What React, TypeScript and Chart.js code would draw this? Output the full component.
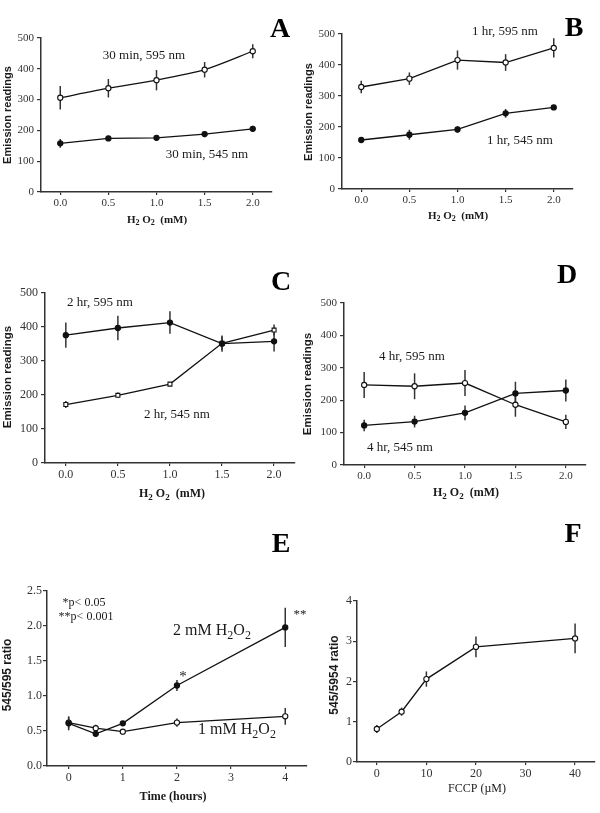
import React, { useEffect, useRef } from "react";
import { Chart, registerables } from "chart.js";
Chart.register(...registerables);

// ---------- DATA ----------
const conc = [0, 0.5, 1.0, 1.5, 2.0];
const concTicks = [0, 0.5, 1.0, 1.5, 2.0];
const emissionTicks = [0, 100, 200, 300, 400, 500];

const a595 = [306, 337, 363, 397, 457];
const a595Err = [38, 30, 33, 25, 23];
const a545 = [158, 174, 176, 188, 205];
const a545Err = [14, 8, 8, 10, 10];

const b595 = [329, 356, 416, 408, 455];
const b595Err = [20, 20, 31, 27, 31];
const b545 = [158, 175, 192, 244, 263];
const b545Err = [9, 16, 10, 14, 8];

const c595 = [376, 397, 413, 351, 358];
const c595Err = [37, 36, 33, 24, 30];
const c545 = [172, 199, 232, 352, 391];
const c545Err = [10, 8, 6, 20, 16];

const d595 = [247, 243, 253, 186, 133];
const d595Err = [40, 40, 40, 37, 22];
const d545 = [122, 134, 161, 221, 230];
const d545Err = [18, 18, 23, 36, 34];

const hours = [0, 0.5, 1, 2, 4];
const hourTicks = [0, 1, 2, 3, 4];
const ratioTicksE = [0, 0.5, 1.0, 1.5, 2.0, 2.5];
const e2mM = [0.61, 0.46, 0.61, 1.15, 1.98];
const e2mMErr = [0.1, 0.03, 0.03, 0.08, 0.28];
const e1mM = [0.62, 0.54, 0.49, 0.62, 0.71];
const e1mMErr = [0.08, 0.05, 0.03, 0.06, 0.12];

const fccp = [0, 5, 10, 20, 40];
const fccpTicks = [0, 10, 20, 30, 40];
const ratioTicksF = [0, 1, 2, 3, 4];
const fRatio = [0.82, 1.25, 2.06, 2.86, 3.07];
const fRatioErr = [0.1, 0.1, 0.19, 0.26, 0.37];

// ---------- STYLE / LAYOUT ----------
const SERIF = "'Liberation Serif', 'Times New Roman', serif";
const SANS = "'Liberation Sans', Arial, sans-serif";
const INK = "#111";
const AXIS = "#333";

type Seg = { t: string; sub?: boolean };
type Series = { x: number[]; y: number[]; err: number[]; style: "open" | "filled" | "square"; tension?: number };
type Note = { segs: Seg[]; x: number; y: number; size: number };
type PanelCfg = {
  left: number; top: number; width: number; height: number;
  area: { l: number; t: number; r: number; b: number };
  xMin: number; xMax: number; xTicks: number[]; xDec: number;
  yMin: number; yMax: number; yTicks: number[]; yDec: number;
  tickSize: number; yTickPad: number;
  series: Series[];
  yTitle: { text: string; x: number; y: number; size: number };
  xTitle: { segs: Seg[]; x: number; y: number; size: number; bold: boolean };
  letter: { text: string; x: number; y: number };
  notes: Note[];
};

const h2o2: Seg[] = [{ t: "H" }, { t: "2", sub: true }, { t: " O" }, { t: "2", sub: true }, { t: "  (mM)" }];

function drawRich(ctx: CanvasRenderingContext2D, segs: Seg[], cx: number, cy: number, size: number, bold: boolean, family: string) {
  const font = (sub?: boolean) => `${bold ? "bold " : ""}${sub ? Math.round(size * 0.72) : size}px ${family}`;
  const widths = segs.map((s) => { ctx.font = font(s.sub); return ctx.measureText(s.t).width; });
  const total = widths.reduce((a, b) => a + b, 0);
  let x = cx - total / 2;
  ctx.textAlign = "left";
  ctx.textBaseline = "middle";
  segs.forEach((s, i) => {
    ctx.font = font(s.sub);
    ctx.fillText(s.t, x, cy + (s.sub ? size * 0.28 : 0));
    x += widths[i];
  });
}

const errorBars = {
  id: "errorBars",
  beforeDatasetsDraw(chart: any) {
    const ctx = chart.ctx;
    const xs = chart.scales.x, ys = chart.scales.y;
    ctx.save();
    ctx.strokeStyle = AXIS;
    ctx.lineWidth = 1.5;
    chart.data.datasets.forEach((ds: any) => {
      ds.data.forEach((p: any, i: number) => {
        const e = ds.errors[i];
        const px = xs.getPixelForValue(p.x);
        ctx.beginPath();
        ctx.moveTo(px, ys.getPixelForValue(p.y + e));
        ctx.lineTo(px, ys.getPixelForValue(p.y - e));
        ctx.stroke();
      });
    });
    ctx.restore();
  },
};

const texts = {
  id: "texts",
  afterDraw(chart: any) {
    const cfg: PanelCfg = chart.options.plugins.texts.cfg;
    const ctx = chart.ctx;
    ctx.save();
    ctx.fillStyle = "#1a1a1a";
    // y title
    ctx.save();
    ctx.translate(cfg.yTitle.x, cfg.yTitle.y);
    ctx.rotate(-Math.PI / 2);
    ctx.font = `bold ${cfg.yTitle.size}px ${SANS}`;
    ctx.textAlign = "center";
    ctx.textBaseline = "middle";
    ctx.fillText(cfg.yTitle.text, 0, 0);
    ctx.restore();
    // x title
    drawRich(ctx, cfg.xTitle.segs, cfg.xTitle.x, cfg.xTitle.y, cfg.xTitle.size, cfg.xTitle.bold, SERIF);
    // panel letter
    ctx.font = `bold 28px ${SERIF}`;
    ctx.textAlign = "center";
    ctx.textBaseline = "alphabetic";
    ctx.fillStyle = "#000";
    ctx.fillText(cfg.letter.text, cfg.letter.x, cfg.letter.y);
    ctx.fillStyle = "#1a1a1a";
    cfg.notes.forEach((n) => drawRich(ctx, n.segs, n.x, n.y, n.size, false, SERIF));
    ctx.restore();
  },
};

const panels: PanelCfg[] = [
  {
    left: 0, top: 0, width: 300, height: 235,
    area: { l: 41, t: 38, r: 272, b: 192 },
    xMin: -0.2, xMax: 2.2, xTicks: concTicks, xDec: 1,
    yMin: 0, yMax: 500, yTicks: emissionTicks, yDec: 0, tickSize: 11, yTickPad: 3,
    series: [
      { x: conc, y: a595, err: a595Err, style: "open", tension: 0.25 },
      { x: conc, y: a545, err: a545Err, style: "filled" },
    ],
    yTitle: { text: "Emission readings", x: 8, y: 115, size: 11 },
    xTitle: { segs: h2o2, x: 157, y: 220, size: 11, bold: true },
    letter: { text: "A", x: 280, y: 37 },
    notes: [
      { segs: [{ t: "30 min, 595 nm" }], x: 144, y: 56, size: 13 },
      { segs: [{ t: "30 min, 545 nm" }], x: 207, y: 155, size: 13 },
    ],
  },
  {
    left: 300, top: 0, width: 300, height: 235,
    area: { l: 42, t: 34, r: 273, b: 189 },
    xMin: -0.2, xMax: 2.2, xTicks: concTicks, xDec: 1,
    yMin: 0, yMax: 500, yTicks: emissionTicks, yDec: 0, tickSize: 11, yTickPad: 3,
    series: [
      { x: conc, y: b595, err: b595Err, style: "open" },
      { x: conc, y: b545, err: b545Err, style: "filled" },
    ],
    yTitle: { text: "Emission readings", x: 9, y: 112, size: 11 },
    xTitle: { segs: h2o2, x: 158, y: 216, size: 11, bold: true },
    letter: { text: "B", x: 274, y: 36 },
    notes: [
      { segs: [{ t: "1 hr, 595 nm" }], x: 205, y: 32, size: 13 },
      { segs: [{ t: "1 hr, 545 nm" }], x: 220, y: 141, size: 13 },
    ],
  },
  {
    left: 0, top: 235, width: 300, height: 275,
    area: { l: 45, t: 58, r: 299, b: 228 },
    xMin: -0.2, xMax: 2.2, xTicks: concTicks, xDec: 1,
    yMin: 0, yMax: 500, yTicks: emissionTicks, yDec: 0, tickSize: 12, yTickPad: 3,
    series: [
      { x: conc, y: c595, err: c595Err, style: "filled" },
      { x: conc, y: c545, err: c545Err, style: "square" },
    ],
    yTitle: { text: "Emission readings", x: 8, y: 142, size: 11.5 },
    xTitle: { segs: h2o2, x: 172, y: 259, size: 12, bold: true },
    letter: { text: "C", x: 281, y: 55 },
    notes: [
      { segs: [{ t: "2 hr, 595 nm" }], x: 100, y: 68, size: 13 },
      { segs: [{ t: "2 hr, 545 nm" }], x: 177, y: 180, size: 13 },
    ],
  },
  {
    left: 300, top: 235, width: 300, height: 275,
    area: { l: 44, t: 68, r: 286, b: 230 },
    xMin: -0.2, xMax: 2.2, xTicks: concTicks, xDec: 1,
    yMin: 0, yMax: 500, yTicks: emissionTicks, yDec: 0, tickSize: 11, yTickPad: 3,
    series: [
      { x: conc, y: d595, err: d595Err, style: "open" },
      { x: conc, y: d545, err: d545Err, style: "filled" },
    ],
    yTitle: { text: "Emission readings", x: 8, y: 149, size: 11.5 },
    xTitle: { segs: h2o2, x: 166, y: 258, size: 12, bold: true },
    letter: { text: "D", x: 267, y: 48 },
    notes: [
      { segs: [{ t: "4 hr, 595 nm" }], x: 112, y: 122, size: 13 },
      { segs: [{ t: "4 hr, 545 nm" }], x: 100, y: 213, size: 13 },
    ],
  },
  {
    left: 300, top: 510, width: 300, height: 303,
    area: { l: 57, t: 91, r: 298, b: 252 },
    xMin: -4, xMax: 44, xTicks: fccpTicks, xDec: 0,
    yMin: 0, yMax: 4, yTicks: ratioTicksF, yDec: 0, tickSize: 12, yTickPad: 1,
    series: [{ x: fccp, y: fRatio, err: fRatioErr, style: "open" }],
    yTitle: { text: "545/5954 ratio", x: 35, y: 165, size: 12 },
    xTitle: { segs: [{ t: "FCCP (µM)" }], x: 177, y: 279, size: 12, bold: false },
    letter: { text: "F", x: 273, y: 32 },
    notes: [],
  },
  {
    left: 0, top: 510, width: 312, height: 303,
    area: { l: 47, t: 81, r: 309, b: 256 },
    xMin: -0.4, xMax: 4.4, xTicks: hourTicks, xDec: 0,
    yMin: 0, yMax: 2.5, yTicks: ratioTicksE, yDec: 1, tickSize: 12, yTickPad: 1,
    series: [
      { x: hours, y: e2mM, err: e2mMErr, style: "filled" },
      { x: hours, y: e1mM, err: e1mMErr, style: "open" },
    ],
    yTitle: { text: "545/595 ratio", x: 8, y: 165, size: 12 },
    xTitle: { segs: [{ t: "Time (hours)" }], x: 173, y: 287, size: 12, bold: true },
    letter: { text: "E", x: 281, y: 42 },
    notes: [
      { segs: [{ t: "*p< 0.05" }], x: 84, y: 93, size: 12 },
      { segs: [{ t: "**p< 0.001" }], x: 86, y: 107, size: 12 },
      { segs: [{ t: "2 mM H" }, { t: "2", sub: true }, { t: "O" }, { t: "2", sub: true }], x: 212, y: 121, size: 16 },
      { segs: [{ t: "1 mM H" }, { t: "2", sub: true }, { t: "O" }, { t: "2", sub: true }], x: 237, y: 220, size: 16 },
      { segs: [{ t: "*" }], x: 183, y: 167, size: 15 },
      { segs: [{ t: "**" }], x: 300, y: 105, size: 13 },
    ],
  },
];

function Panel({ cfg }: { cfg: PanelCfg }) {
  const ref = useRef<HTMLCanvasElement>(null);
  useEffect(() => {
    if (!ref.current) return;
    const { area, width, height } = cfg;
    const tickFont = { family: SERIF, size: cfg.tickSize };
    const chart = new Chart(ref.current, {
      type: "line",
      data: {
        datasets: cfg.series.map((s) => ({
          data: s.x.map((x, i) => ({ x, y: s.y[i] })),
          errors: s.err,
          borderColor: INK,
          borderWidth: 1.3,
          tension: s.tension || 0,
          pointStyle: s.style === "square" ? "rect" : "circle",
          pointRadius: s.style === "square" ? 2.8 : 2.6,
          pointBackgroundColor: s.style === "filled" ? INK : "#fff",
          pointBorderColor: INK,
          pointBorderWidth: 1.1,
          fill: false,
        })) as any,
      },
      options: {
        animation: false,
        responsive: false,
        maintainAspectRatio: false,
        events: [],
        layout: { padding: { left: 0, top: area.t, right: width - area.r, bottom: 0 } },
        plugins: { legend: { display: false }, tooltip: { enabled: false }, texts: { cfg } } as any,
        scales: {
          x: {
            type: "linear",
            min: cfg.xMin,
            max: cfg.xMax,
            afterBuildTicks: (s: any) => { s.ticks = cfg.xTicks.map((v) => ({ value: v })); },
            afterFit: (s: any) => { s.height = height - area.b; },
            grid: { drawOnChartArea: false, drawTicks: true, tickLength: 3, color: AXIS, lineWidth: 1.2 },
            border: { display: true, color: AXIS, width: 1.5 },
            ticks: { font: tickFont, color: "#333", padding: 2, maxRotation: 0, autoSkip: false, callback: (v: any) => Number(v).toFixed(cfg.xDec) },
          },
          y: {
            type: "linear",
            min: cfg.yMin,
            max: cfg.yMax,
            afterBuildTicks: (s: any) => { s.ticks = cfg.yTicks.map((v) => ({ value: v })); },
            afterFit: (s: any) => { s.width = area.l; },
            grid: { drawOnChartArea: false, drawTicks: true, tickLength: 4, color: AXIS, lineWidth: 1.2 },
            border: { display: true, color: AXIS, width: 1.5 },
            ticks: { font: tickFont, color: "#333", padding: cfg.yTickPad, autoSkip: false, callback: (v: any) => Number(v).toFixed(cfg.yDec) },
          },
        },
      } as any,
      plugins: [errorBars, texts],
    });
    return () => chart.destroy();
  }, [cfg]);
  return (
    <canvas
      ref={ref}
      width={cfg.width}
      height={cfg.height}
      style={{ position: "absolute", left: cfg.left, top: cfg.top, width: cfg.width, height: cfg.height }}
    />
  );
}

export default function App() {
  return (
    <div style={{ position: "absolute", left: 0, top: 0, width: 600, height: 813, background: "#fff", overflow: "hidden" }}>
      {panels.map((p, i) => (
        <Panel key={i} cfg={p} />
      ))}
    </div>
  );
}
